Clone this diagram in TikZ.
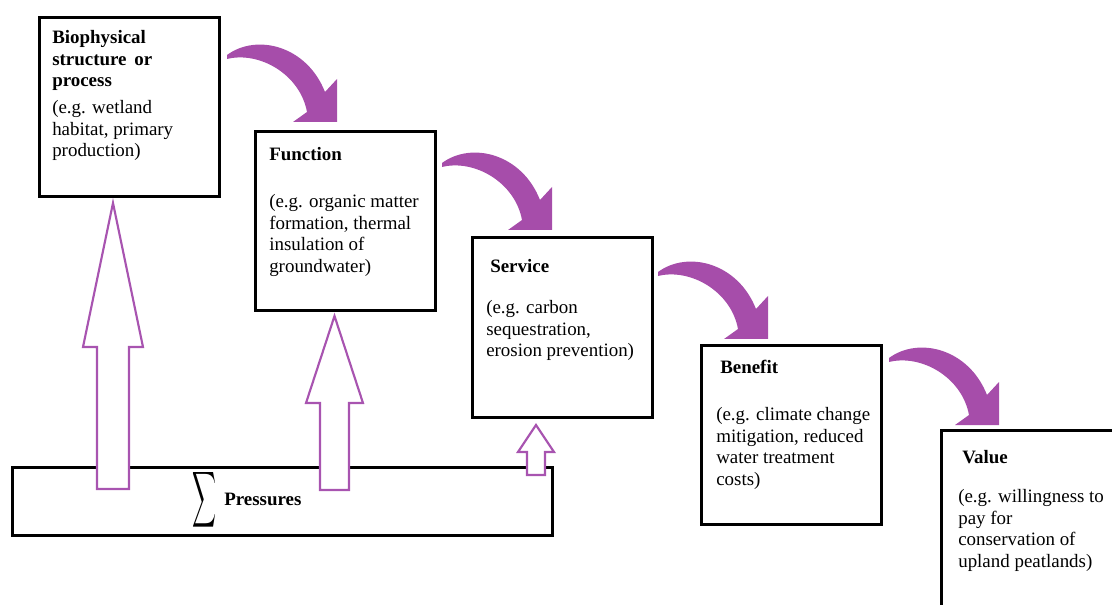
\documentclass[tikz,border=0pt]{standalone}
\usepackage{fontspec}
\usepackage{graphicx}
\setmainfont{Liberation Serif}
\definecolor{arrowpurple}{RGB}{166,77,170}
\definecolor{outlinepurple}{RGB}{168,84,176}
\tikzset{
  box/.style={draw=black, line width=2.25pt, minimum width=135pt, minimum height=134.25pt, inner sep=0pt, fill=white},
  border/.style={draw=black, line width=2.25pt, line cap=rect},
  txt/.style={inner sep=0pt, anchor=north west, align=left, font=\fontsize{14.2}{16.3}\selectfont},
  head/.style={txt, font=\fontsize{14.2}{16.3}\selectfont\bfseries},
  hollow/.style={draw=outlinepurple, fill=white, line width=1.6pt, line join=miter},
  pics/bendarrow/.style={code={
    \fill[arrowpurple] (-110,-67) .. controls (-80,-89) and (-30,-76) .. (-12,-30)
      -- (0,-43) -- (0,0) -- (-44,0) -- (-30,-10)
      .. controls (-37,-48) and (-78,-71) .. (-110,-63) -- cycle;
  }},
  pics/hollowup/.style n args={4}{code={
    \draw[hollow] (0,0) -- (#1,#2) -- (#3,#2) -- (#3,#4) -- (-#3,#4) -- (-#3,#2) -- (-#1,#2) -- cycle;
  }}
}
\begin{document}
\begin{tikzpicture}[x=0.75pt, y=-0.75pt]
\useasboundingbox (0,0) rectangle (1112,605);
\clip (0,0) rectangle (1112,605);

% boxes
\node[box] (b1) at (129,107.5) {};
\node[box] (b2) at (345,221) {};
\node[box] (b3) at (562,327.5) {};
\node[box] (b4) at (791,435) {};
% value box runs past the right and bottom edges of the picture
\node[box, draw=none, fill=none, minimum width=210pt, minimum height=180pt] (b5) at (1083,552) {};
\draw[border] (b5.south west) -- (b5.north west) -- (b5.north east);

% pressures box
\node[draw=black, line width=2.25pt, minimum width=405pt, minimum height=51pt, inner sep=0pt] (pr) at (282,501) {};
\node[inner sep=0pt] (sig) at (204.5,499.5) {\resizebox{18pt}{30.75pt}{$\displaystyle\sum$}};
\node[inner sep=0pt, anchor=base west, font=\fontsize{14.2}{16.3}\selectfont\bfseries] (prt) at (224,505) {Pressures};

% hollow up arrows
\coordinate (u1) at (113,203);
\coordinate (u2) at (334.5,316);
\coordinate (u3) at (536,425);
\pic at (u1) {hollowup={30}{144}{16}{286}};
\pic at (u2) {hollowup={28.5}{87}{14.5}{174}};
\pic at (u3) {hollowup={18}{27}{9}{50}};

% curved arrows
\coordinate (c1) at (337,122);
\coordinate (c2) at (552,230);
\coordinate (c3) at (768,339);
\coordinate (c4) at (999,425);
\pic at (c1) {bendarrow};
\pic at (c2) {bendarrow};
\pic at (c3) {bendarrow};
\pic at (c4) {bendarrow};

% texts
\node[head] (h1) at (52,27.8) {\strut Biophysical\\structure\, or\\process};
\node[txt] (t1) at (52,97.8) {\strut(e.g. wetland\\habitat, primary\\production)};
\node[head] (h2) at (269,144.8) {\strut Function};
\node[txt] (t2) at (269,191.8) {\strut(e.g. organic matter\\formation, thermal\\insulation of\\groundwater)};
\node[head] (h3) at (490,256.8) {\strut Service};
\node[txt] (t3) at (486,297.8) {\strut(e.g. carbon\\sequestration,\\erosion prevention)};
\node[head] (h4) at (720,357.8) {\strut Benefit};
\node[txt] (t4) at (716,404.8) {\strut(e.g. climate change\\mitigation, reduced\\water treatment\\costs)};
\node[head] (h5) at (962,447.8) {\strut Value};
\node[txt] (t5) at (958,486.8) {\strut(e.g. willingness to\\pay for\\conservation of\\upland peatlands)};
\end{tikzpicture}
\end{document}
